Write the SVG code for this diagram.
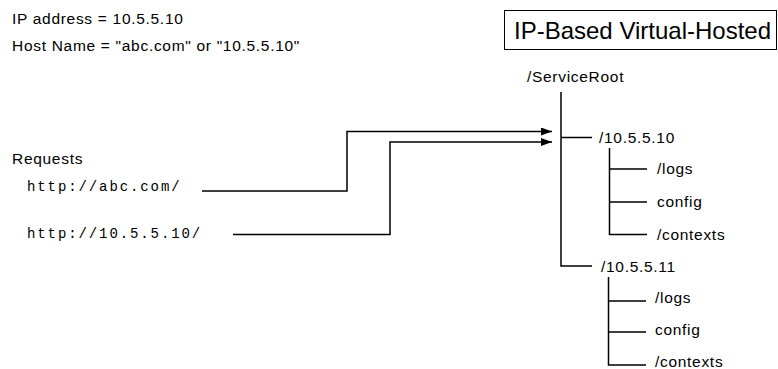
<svg xmlns="http://www.w3.org/2000/svg" width="778" height="369" viewBox="0 0 778 369">
  <style>
    .t { font-family: "Liberation Sans", Arial, sans-serif; font-size: 15.5px; letter-spacing: 0.7px; fill: #000; }
    .url { font-family: "Liberation Mono", "Courier New", monospace; font-size: 14px; fill: #000; letter-spacing: 1.9px; }
    .title { font-family: "Liberation Sans", Arial, sans-serif; font-size: 24px; fill: #000; }
    .ln { stroke: #000; stroke-width: 1.5; fill: none; }
  </style>
  <defs>
    <marker id="arrow" markerUnits="userSpaceOnUse" markerWidth="11" markerHeight="8" refX="11" refY="4" orient="auto">
      <path d="M0,0 L11,4 L0,8 Z" fill="#000"/>
    </marker>
  </defs>

  <!-- header notes -->
  <g id="notes">
    <text class="t" x="12" y="24">IP address = 10.5.5.10</text>
    <text class="t" x="12" y="51">Host Name = "abc.com" or "10.5.5.10"</text>
  </g>

  <!-- title -->
  <g id="title">
    <rect x="504.5" y="10.5" width="272" height="39" fill="#fff" stroke="#000" stroke-width="1"/>
    <text class="title" x="514" y="39">IP-Based Virtual-Hosted</text>
  </g>

  <!-- requests -->
  <g id="requests">
    <text class="t" x="12" y="164">Requests</text>
    <text class="url" x="27" y="191">http://abc.com/</text>
    <text class="url" x="27" y="238">http://10.5.5.10/</text>
  </g>

  <!-- directory tree -->
  <g id="service-root">
    <text class="t" x="527" y="82">/ServiceRoot</text>
  </g>
  <g id="host-10-5-5-10">
    <text class="t" x="599" y="143">/10.5.5.10</text>
    <text class="t" x="657" y="174">/logs</text>
    <text class="t" x="657" y="207">config</text>
    <text class="t" x="657" y="240">/contexts</text>
  </g>
  <g id="host-10-5-5-11">
    <text class="t" x="601" y="272">/10.5.5.11</text>
    <text class="t" x="655" y="303">/logs</text>
    <text class="t" x="655" y="335">config</text>
    <text class="t" x="655" y="367">/contexts</text>
  </g>

  <!-- connectors -->
  <g id="connectors">
    <!-- tree lines -->
    <path class="ln" d="M561,92 V266 H592 M561,137.5 H592"/>
    <path class="ln" d="M609.5,148 V234.5 H647 M609.5,169 H647 M609.5,202 H647"/>
    <path class="ln" d="M608.5,277 V365 H646 M608.5,301 H646 M608.5,332 H646"/>
    <!-- request routes -->
    <path class="ln" d="M202,191 H347 V131.5 H552" marker-end="url(#arrow)"/>
    <path class="ln" d="M233,234.5 H390 V142 H552" marker-end="url(#arrow)"/>
  </g>
</svg>
